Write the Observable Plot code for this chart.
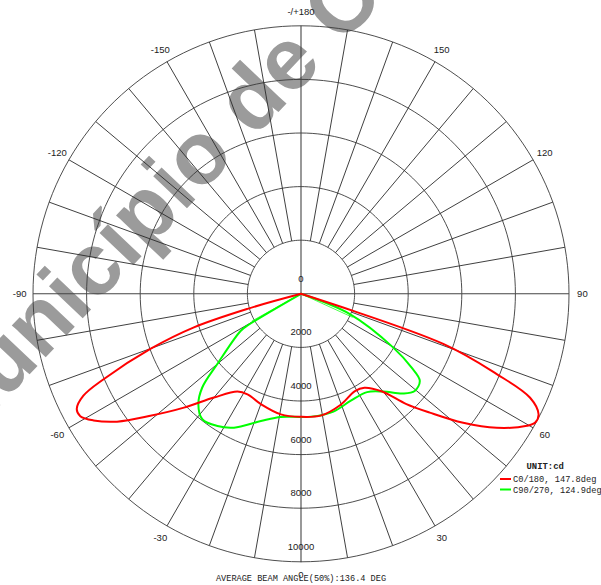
<!DOCTYPE html>
<html><head><meta charset="utf-8">
<script src="https://cdn.jsdelivr.net/npm/d3@7"></script>
<script src="https://cdn.jsdelivr.net/npm/@observablehq/plot@0.6"></script>
<style>body{margin:0;background:#fff}#chart{width:601px;height:585px;overflow:hidden}</style>
</head><body><div id="chart"></div>
<script>
// ---- data ----
const ringValues = [2000, 4000, 6000, 8000, 10000];
const ringLabelValues = [0, 2000, 4000, 6000, 8000, 10000];
const angleTicks = [0, 30, 60, 90, 120, 150, 180, -150, -120, -90, -60, -30];
const angleTickLabels = ["0", "30", "60", "90", "120", "150", "-/+180", "-150", "-120", "-90", "-60", "-30"];

// C0/180 (red): gamma angle in degrees (0 = down, + = C0 side right, - = C180 side left), intensity cd
const redAngles = [-76, -74.3, -72.6, -69.9, -66.6, -64.9, -62.8, -61, -58.6, -55.2, -51, -45.8, -40, -33, -28, -20, -9.5, 0, 9.5, 19.5, 29, 34, 39.7, 43.7, 47.3, 51.5, 55.6, 59.7, 61.2, 63.1, 65.6, 67.7, 70.6, 72];
const redValues = [0, 2074, 4187, 5985, 8026, 8966, 9408, 9416, 9067, 8360, 7235, 6094, 5053, 4351, 4250, 4380, 4560, 4590, 4600, 4400, 4150, 4230, 4740, 5694, 6539, 7733, 8850, 9764, 9974, 9940, 9387, 7894, 5629, 0];

// C90/270 (green)
const greenAngles = [-63, -59.4, -58.5, -50, -46.5, -42.9, -38.2, -32.3, -26.6, -17.5, -9.3, 0, 7.1, 15.4, 25, 33.9, 40, 45.7, 49.5, 53.8, 56.3, 59.8, 67.5, 71];
const greenValues = [0, 2270, 2634, 4075, 5079, 5626, 5956, 5836, 5585, 4977, 4656, 4596, 4600, 4560, 4400, 4420, 4761, 5326, 5580, 5493, 4953, 3974, 1958, 0];

// thin green strokes from the centre
const thinAngles = [-61, 65.5];
const thinValues = [2100, 2120];

const legendLabels = ["C0/180, 147.8deg", "C90/270, 124.9deg"];
const legendColors = ["#ff0000", "#00ff00"];
const unitLabel = "UNIT:cd";
const titleText = "AVERAGE BEAM ANGLE(50%):136.4 DEG";
const watermarkText = "Município de C";

// ---- helpers ----
const rad = d => d * Math.PI / 180;
const px = (a, v) => v * Math.sin(rad(a));
const py = (a, v) => -v * Math.cos(rad(a));
const toPts = (angles, values) => angles.map((a, i) => ({x: px(a, values[i]), y: py(a, values[i])}));

const redPts = toPts(redAngles, redValues);
const greenPts = toPts(greenAngles, greenValues);
const thinLinks = thinAngles.map((a, i) => ({x1: 0, y1: 0, x2: px(a, thinValues[i]), y2: py(a, thinValues[i])}));

const ringPts = ringValues.flatMap(v => d3.range(0, 361, 2).map(a => ({ring: v, x: px(a, v), y: py(a, v)})));
const spokeAngles = d3.range(-180, 180, 10).filter(a => a % 90 !== 0);
const maxR = ringValues[ringValues.length - 1];
const minR = ringValues[0];
const spokes = spokeAngles.map(a => ({x1: px(a, minR), y1: py(a, minR), x2: px(a, maxR), y2: py(a, maxR)}));
const axes = [
  {x1: -maxR, y1: 0, x2: maxR, y2: 0},
  {x1: 0, y1: -maxR, x2: 0, y2: maxR}
];
const angleLabelR = 10500;
const angleLabels = angleTicks.map((a, i) => ({x: px(a, angleLabelR), y: py(a, angleLabelR), t: angleTickLabels[i]}));
const ringLabels = ringLabelValues.map(v => ({x: 0, y: -v, t: String(v)}));

// ---- layout: 268 px for 10000 cd, centre at (300.5, 293.3) ----
const W = 601, H = 585, cx = 300.5, cy = 293.3, k = 268 / maxR;
const labelFont = "Liberation Sans, Arial, sans-serif";
const monoFont = "Liberation Mono, Courier New, monospace";

const legendTextMarks = legendLabels.map((t, i) =>
  Plot.text([t], {frameAnchor: "top-left", lineAnchor: "middle", text: d => d, dx: 512.5, dy: 479 + i * 10.5,
    textAnchor: "start", fontSize: 8.7, fill: "#222", fontFamily: monoFont}));

const plot = Plot.plot({
  width: W, height: H, margin: 0,
  x: {domain: [-cx / k, (W - cx) / k], axis: null},
  y: {domain: [-(H - cy) / k, cy / k], axis: null},
  style: {background: "#fff", overflow: "hidden"},
  marks: [
    Plot.text([watermarkText], {frameAnchor: "top-left", lineAnchor: "middle", text: d => d, dx: -67, dy: 434, rotate: -46.5,
      textAnchor: "start", fontSize: 88, fontWeight: "bold", fontFamily: labelFont, fill: "#9b9b9b"}),
    Plot.line(ringPts, {x: "x", y: "y", z: "ring", stroke: "#3a3a3a", strokeWidth: 0.9}),
    Plot.link(spokes, {x1: "x1", y1: "y1", x2: "x2", y2: "y2", stroke: "#2a2a2a", strokeWidth: 0.9}),
    Plot.link(axes, {x1: "x1", y1: "y1", x2: "x2", y2: "y2", stroke: "#444", strokeWidth: 1.1}),
    Plot.link(thinLinks, {x1: "x1", y1: "y1", x2: "x2", y2: "y2", stroke: "#00ff00", strokeWidth: 0.7}),
    Plot.line(greenPts, {x: "x", y: "y", stroke: "#00ff00", strokeWidth: 2, curve: "catmull-rom"}),
    Plot.line(redPts, {x: "x", y: "y", stroke: "#ff0000", strokeWidth: 2, curve: "catmull-rom"}),
    Plot.text(ringLabels, {x: "x", y: "y", text: "t", dy: -15, fontSize: 9.5, fill: "#222", fontFamily: labelFont}),
    Plot.text(angleLabels, {x: "x", y: "y", text: "t", fontSize: 9.5, fill: "#222", fontFamily: labelFont}),
    Plot.text([unitLabel], {frameAnchor: "top-left", lineAnchor: "middle", text: d => d, dx: 526, dy: 466, textAnchor: "start",
      fontSize: 8.9, fontWeight: "bold", fill: "#222", fontFamily: monoFont}),
    ...legendTextMarks,
    Plot.text([titleText], {frameAnchor: "top", lineAnchor: "middle", text: d => d, dy: 577.5, fontSize: 8.6, fill: "#222",
      fontFamily: monoFont})
  ]
});
document.getElementById("chart").appendChild(plot);

// legend swatches
const svg = d3.select(plot);
legendColors.forEach((c, i) => {
  svg.append("line").attr("x1", 500).attr("x2", 511).attr("y1", 479 + i * 10.5).attr("y2", 479 + i * 10.5)
    .attr("stroke", c).attr("stroke-width", 2);
});
</script>
</body></html>
